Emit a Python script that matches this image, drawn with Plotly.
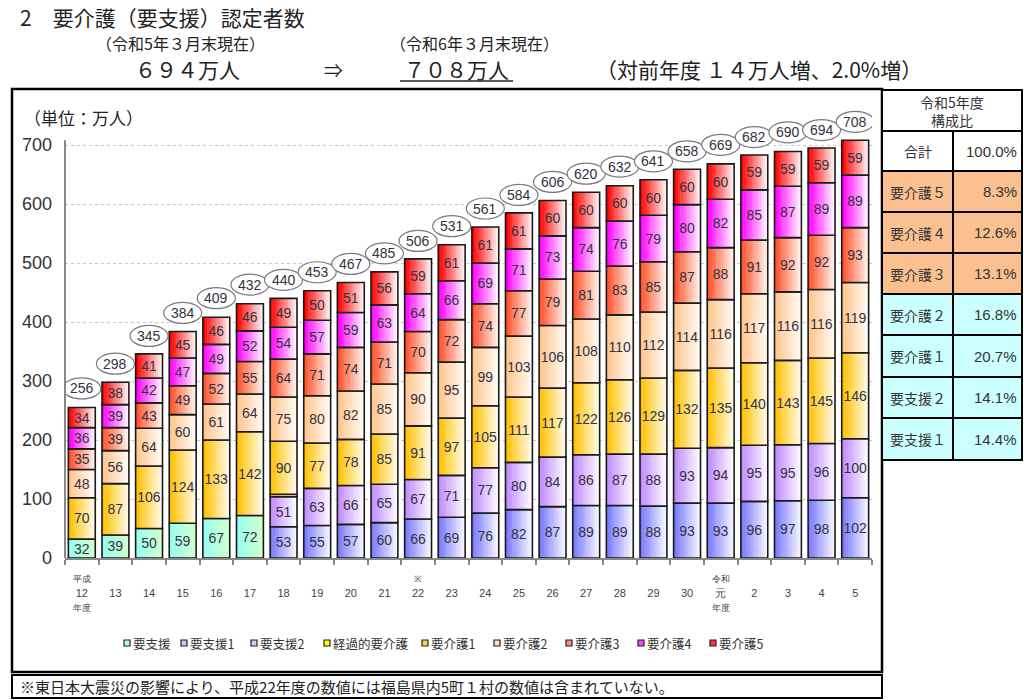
import plotly.graph_objects as go

# ---------------- data ----------------
years = ["平成12年度", "13", "14", "15", "16", "17", "18", "19", "20", "21", "22", "23",
         "24", "25", "26", "27", "28", "29", "30", "令和元年度", "2", "3", "4", "5"]

shien = [32, 39, 50, 59, 67, 72] + [None] * 18
shien1 = [None] * 6 + [53, 55, 57, 60, 66, 69, 76, 82, 87, 89, 89, 88, 93, 93, 96, 97, 98, 102]
shien2 = [None] * 6 + [51, 63, 66, 65, 67, 71, 77, 80, 84, 86, 87, 88, 93, 94, 95, 95, 96, 100]
keika = [None] * 6 + [4] + [None] * 17
kaigo1 = [70, 87, 106, 124, 133, 142, 90, 77, 78, 85, 91, 97, 105, 111, 117, 122, 126, 129, 132,
          135, 140, 143, 145, 146]
kaigo2 = [48, 56, 64, 60, 61, 64, 75, 80, 82, 85, 90, 95, 99, 103, 106, 108, 110, 112, 114,
          116, 117, 116, 116, 119]
kaigo3 = [35, 39, 43, 49, 52, 55, 64, 71, 74, 71, 70, 72, 74, 77, 79, 81, 83, 85, 87,
          88, 91, 92, 92, 93]
kaigo4 = [36, 39, 42, 47, 49, 52, 54, 57, 59, 63, 64, 66, 69, 71, 73, 74, 76, 79, 80,
          82, 85, 87, 89, 89]
kaigo5 = [34, 38, 41, 45, 46, 46, 49, 50, 51, 56, 59, 61, 61, 61, 60, 60, 60, 60, 60,
          60, 59, 59, 59, 59]
totals = [256, 298, 345, 384, 409, 432, 440, 453, 467, 485, 506, 531, 561, 584, 606, 620,
          632, 641, 658, 669, 682, 690, 694, 708]

series_names = ["要支援", "要支援1", "要支援2", "経過的要介護", "要介護1", "要介護2",
                "要介護3", "要介護4", "要介護5"]
series_values = [shien, shien1, shien2, keika, kaigo1, kaigo2, kaigo3, kaigo4, kaigo5]

table_labels = ["合計", "要介護５", "要介護４", "要介護３", "要介護２", "要介護１", "要支援２", "要支援１"]
table_values = ["100.0%", "8.3%", "12.6%", "13.1%", "16.8%", "20.7%", "14.1%", "14.4%"]

# ---------------- styles ----------------
grad_left = ["#96FFF0", "#7878FF", "#BE8CFF", "#FFFF00", "#FFC000", "#FFC58C",
             "#FF5028", "#FF00FF", "#FF0000"]
grad_right = ["#D2FFCC", "#F6F6FF", "#FFF8FF", "#FFFFE0", "#FFFAE8", "#FFFAF4",
              "#FFF2EC", "#FFF4FF", "#FFF2F2"]
legend_colors = ["#B4FFE0", "#C8C8FF", "#E0C8FF", "#FFFF00", "#FFD040", "#FFE0C0",
                 "#FF9070", "#FF40FF", "#FF3030"]
legend_x = [127, 184, 254, 327, 425, 497, 569, 641, 713]   # layout positions (px)
table_fills = ["#FFFFFF", "#FAC090", "#FAC090", "#FAC090", "#CCFFFF", "#CCFFFF", "#CCFFFF", "#CCFFFF"]

JP = "Noto Sans CJK JP"
FONT = "Liberation Sans, Noto Sans CJK JP"

L, R, T, B = 65, 872, 100, 558


def px(x):
    return (x - L) / (R - L)


def py(y):
    return (B - y) / (B - T)


def hex2rgb(h):
    h = h.lstrip("#")
    return [int(h[i:i + 2], 16) for i in (0, 2, 4)]


def mix(a, b, t):
    ca, cb = hex2rgb(a), hex2rgb(b)
    c = [round(ca[i] + (cb[i] - ca[i]) * t) for i in range(3)]
    return "rgb(%d,%d,%d)" % tuple(c)


def small(s, size=9):
    return "<span style='font-size:%dpx'>%s</span>" % (size, s)


NB = "\u00a0"
tick_text = []
for y in years:
    if y == "平成12年度":
        tick_text.append(small("平成") + "<br>12<br>" + small("年度"))
    elif y == "令和元年度":
        tick_text.append(small("令和") + "<br>" + small("元", 11) + "<br>" + small("年度"))
    elif y == "22":
        tick_text.append(small("※") + "<br>22<br>" + NB)
    else:
        tick_text.append(NB + "<br>" + y + "<br>" + NB)

fig = go.Figure()

W = 0.8
N = 12
cum = [0.0] * len(years)
for si, (name, vals) in enumerate(zip(series_names, series_values)):
    base = list(cum)
    for k in range(N):
        t = k / (N - 1)
        fig.add_trace(go.Bar(
            x=years, y=vals, base=base, name=name,
            width=W / N * (1.2 if k < N - 1 else 1.0),
            offset=-W / 2 + k * W / N,
            marker=dict(color=mix(grad_left[si], grad_right[si], t), line=dict(width=0)),
            showlegend=False, hoverinfo="skip"))
    labels = [("" if (v is None or v < 10) else str(v)) for v in vals]
    fig.add_trace(go.Bar(
        x=years, y=vals, base=base, width=W, offset=-W / 2, name=name,
        marker=dict(color="rgba(0,0,0,0)", line=dict(color="#1a1a1a", width=1.6)),
        text=labels, textposition="inside", insidetextanchor="middle", textangle=0,
        constraintext="none",
        textfont=dict(family="Liberation Sans", size=14, color="#33333f"),
        showlegend=False, hoverinfo="skip"))
    cum = [c + (v or 0) for c, v in zip(cum, vals)]

shapes = []
annotations = []

# total ellipses + labels
for i, tot in enumerate(totals):
    shapes.append(dict(type="circle", xref="x", yref="y", xsizemode="pixel", ysizemode="pixel",
                       xanchor=i, yanchor=tot, x0=-19, x1=19, y0=8, y1=29,
                       fillcolor="white", line=dict(color="#7a7a7a", width=1.2), layer="above"))
    annotations.append(dict(x=i, y=tot, xref="x", yref="y", yshift=18.5, text=str(tot),
                            xanchor="center", yanchor="middle", showarrow=False,
                            font=dict(family="Liberation Sans", size=14, color="#33333f")))

# y axis line
shapes.append(dict(type="line", xref="paper", yref="y", x0=0, x1=0, y0=0, y1=708,
                   line=dict(color="#888", width=2)))

# frames
shapes.append(dict(type="rect", xref="paper", yref="paper", x0=px(12), x1=px(882),
                   y0=py(672), y1=py(89), line=dict(color="black", width=2.5)))
shapes.append(dict(type="rect", xref="paper", yref="paper", x0=px(12), x1=px(882),
                   y0=py(698), y1=py(675), line=dict(color="black", width=2)))


def ann(x, y, text, size, xanchor="left", family=JP, color="#222"):
    annotations.append(dict(x=px(x), y=py(y), xref="paper", yref="paper", xanchor=xanchor,
                            yanchor="middle", showarrow=False, text=text,
                            font=dict(family=family, size=size, color=color)))


# table
row_edges = [131, 171, 212, 253, 294, 335, 377, 418, 460]
shapes.append(dict(type="rect", xref="paper", yref="paper", x0=px(882), x1=px(1022),
                   y0=py(131), y1=py(90), fillcolor="white", line=dict(color="black", width=2)))
ann(952, 110.5, "令和5年度<br>構成比", 14, "center", color="#333")
for r in range(len(table_labels)):
    y0, y1 = row_edges[r], row_edges[r + 1]
    for (xa, xb) in [(882, 953), (953, 1022)]:
        shapes.append(dict(type="rect", xref="paper", yref="paper", x0=px(xa), x1=px(xb),
                           y0=py(y1), y1=py(y0), fillcolor=table_fills[r],
                           line=dict(color="black", width=2)))
    ann(917.5, (y0 + y1) / 2, table_labels[r], 14, "center", color="#333")
    ann(1019, (y0 + y1) / 2, table_values[r], 15, "right", family="Liberation Sans", color="#333")

# legend (drawn manually to keep the compact spacing of the original)
for si, name in enumerate(series_names):
    lx = legend_x[si]
    shapes.append(dict(type="rect", xref="paper", yref="paper", x0=px(lx - 3), x1=px(lx + 3),
                       y0=py(646), y1=py(640), fillcolor=legend_colors[si],
                       line=dict(color="#222", width=1.2)))
    ann(lx + 4, 643, name, 12.5, "left", color="#333")

# titles
ann(18, 17, "2　要介護（要支援）認定者数", 21)
ann(180, 43, "（令和5年３月末現在）", 16, "center")
ann(474, 43, "（令和6年３月末現在）", 16, "center")
ann(187, 69, "６９４万人", 21, "center")
ann(333, 69, "⇒", 19, "center")
ann(456, 69, "７０８万人", 21, "center")
ann(759, 69, "（対前年度 １４万人増、2.0%増）", 21, "center")
shapes.append(dict(type="line", xref="paper", yref="paper", x0=px(400), x1=px(513),
                   y0=py(81), y1=py(81), line=dict(color="#222", width=1.5)))
ann(22, 117, "（単位：万人）", 17)
ann(18, 686, "※東日本大震災の影響により、平成22年度の数値には福島県内5町１村の数値は含まれていない。", 15)

fig.update_layout(
    width=1024, height=700,
    margin=dict(l=L, r=1024 - R, t=T, b=700 - B),
    paper_bgcolor="white", plot_bgcolor="white",
    barmode="overlay",
    font=dict(family=FONT, color="#333"),
    showlegend=False,
    xaxis=dict(type="category", range=[-0.5, len(years) - 0.5], tickson="boundaries",
               tickvals=years, ticktext=tick_text, ticks="outside", ticklen=5,
               tickcolor="#888", tickwidth=2, showline=True, linecolor="#888", linewidth=2,
               showgrid=False, ticklabelstandoff=9,
               tickfont=dict(family="Liberation Sans", size=11, color="#444"),
               fixedrange=True),
    yaxis=dict(range=[0, (B - T) / (413 / 700)], tickvals=list(range(0, 701, 100)),
               showgrid=True, gridcolor="#c8c8c8", griddash="dot", gridwidth=1,
               zeroline=False, showline=False, ticks="", ticklabelstandoff=12,
               tickfont=dict(family="Liberation Sans", size=18, color="#333"), fixedrange=True),
    shapes=shapes, annotations=annotations,
)

fig.write_html("out.html")
